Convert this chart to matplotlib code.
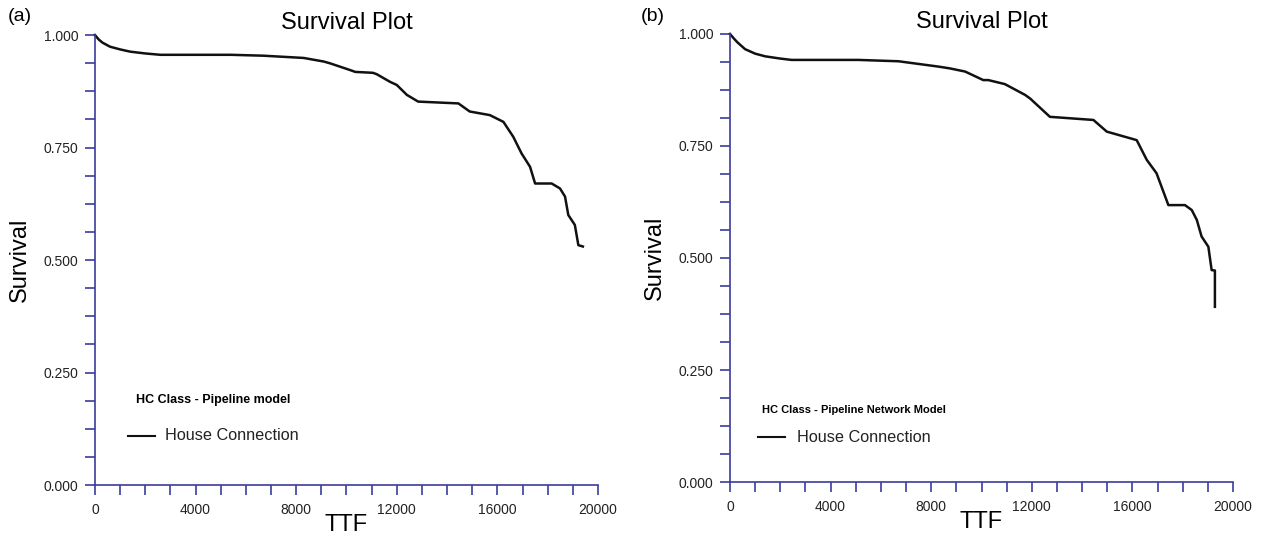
import matplotlib.pyplot as plt
from matplotlib.ticker import MultipleLocator, FixedLocator

plt.rcParams['font.family'] = ['Liberation Sans', 'DejaVu Sans']

# panel (a) - Pipeline model
ttf_a = [0, 150, 300, 600, 1000, 1400, 2000, 2600, 5400, 6700, 8300, 9100, 9350, 10150,
         10350, 11050, 11200, 11730, 12000, 12400, 12850, 14450, 14900, 15700, 16240,
         16630, 16960, 17300, 17500, 18160, 18490, 18690, 18820, 19080, 19220, 19400]
surv_a = [1.0, 0.99, 0.983, 0.974, 0.968, 0.963, 0.959, 0.956, 0.956, 0.954, 0.949,
          0.941, 0.937, 0.922, 0.918, 0.916, 0.913, 0.896, 0.889, 0.867, 0.852, 0.848,
          0.830, 0.822, 0.807, 0.774, 0.737, 0.707, 0.670, 0.670, 0.659, 0.641, 0.600,
          0.578, 0.533, 0.530]

# panel (b) - Pipeline network model
ttf_b = [0, 150, 300, 600, 1000, 1400, 2000, 2450, 5100, 6700, 8300, 8750, 9350, 10070,
         10270, 10930, 11130, 11730, 11930, 12720, 14450, 14980, 16170, 16570, 16960,
         17430, 18090, 18360, 18560, 18750, 19020, 19150, 19280, 19280]
surv_b = [1.0, 0.99, 0.981, 0.966, 0.956, 0.950, 0.945, 0.942, 0.942, 0.939, 0.927,
          0.923, 0.916, 0.897, 0.897, 0.888, 0.882, 0.864, 0.856, 0.815, 0.808, 0.782,
          0.763, 0.719, 0.689, 0.618, 0.618, 0.607, 0.585, 0.548, 0.525, 0.473, 0.472,
          0.391]

x_labels = [0, 4000, 8000, 12000, 16000, 20000]
y_labels = [0.0, 0.25, 0.5, 0.75, 1.0]

axis_col = '#3c3c9c'

fig = plt.figure(figsize=(12.78, 5.36), dpi=100)
ax_a = fig.add_axes([0.0743, 0.0951, 0.3936, 0.8396])
ax_b = fig.add_axes([0.5712, 0.1007, 0.3936, 0.836])


def style_axes(ax):
    ax.set_xlim(0, 20000)
    ax.set_ylim(0, 1.0)
    for s in ['top', 'right']:
        ax.spines[s].set_visible(False)
    for s in ['left', 'bottom']:
        ax.spines[s].set_color(axis_col)
        ax.spines[s].set_linewidth(1.2)
    ax.xaxis.set_major_locator(FixedLocator(x_labels))
    ax.xaxis.set_minor_locator(MultipleLocator(1000))
    ax.yaxis.set_major_locator(FixedLocator(y_labels))
    ax.yaxis.set_minor_locator(MultipleLocator(0.0625))
    ax.set_xticklabels([str(v) for v in x_labels])
    ax.set_yticklabels(['%.3f' % v for v in y_labels])
    ax.tick_params(which='both', direction='out', length=7, width=1.2,
                   color=axis_col, labelsize=10, labelcolor='#222222')
    ax.tick_params(axis='y', which='both', pad=5)
    ax.tick_params(axis='x', which='both', pad=6)
    ax.set_xlabel('TTF', fontsize=17, labelpad=-2)
    ax.set_ylabel('Survival', fontsize=17, labelpad=9)
    ax.set_title('Survival Plot', fontsize=17, pad=4)


style_axes(ax_a)
ax_a.plot(ttf_a, surv_a, color='#111111', lw=1.8, clip_on=False)
ax_a.text(0.081, 0.19, 'HC Class - Pipeline model', transform=ax_a.transAxes,
          fontsize=9, fontweight='bold', va='center')
ax_a.plot([0.066, 0.12], [0.11, 0.11], transform=ax_a.transAxes, color='#111111', lw=1.5)
ax_a.text(0.14, 0.11, 'House Connection', transform=ax_a.transAxes, fontsize=11.7,
          va='center', color='#222222')
fig.text(0.006, 0.96, '(a)', fontsize=14)

style_axes(ax_b)
ax_b.plot(ttf_b, surv_b, color='#111111', lw=1.8, clip_on=False)
ax_b.text(0.064, 0.16, 'HC Class - Pipeline Network Model', transform=ax_b.transAxes,
          fontsize=8, fontweight='bold', va='center')
ax_b.plot([0.056, 0.11], [0.1, 0.1], transform=ax_b.transAxes, color='#111111', lw=1.5)
ax_b.text(0.133, 0.1, 'House Connection', transform=ax_b.transAxes, fontsize=11.7,
          va='center', color='#222222')
fig.text(0.501, 0.96, '(b)', fontsize=14)

fig.savefig('out.png', dpi=100)
